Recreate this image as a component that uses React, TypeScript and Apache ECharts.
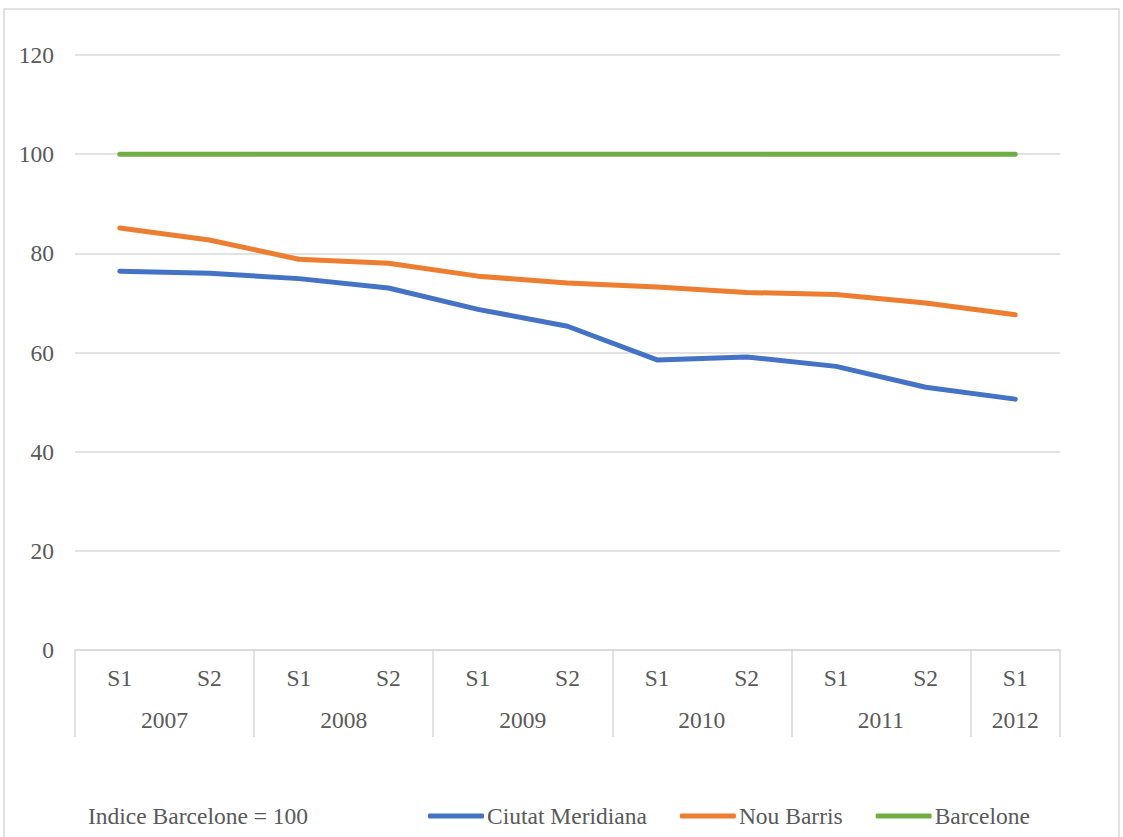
import React, { useEffect, useRef } from "react";
import * as echarts from "echarts";

const years = ["2007", "2008", "2009", "2010", "2011", "2012"];
const semesters = ["S1", "S2", "S1", "S2", "S1", "S2", "S1", "S2", "S1", "S2", "S1"];
const semesterYear = ["2007", "2007", "2008", "2008", "2009", "2009", "2010", "2010", "2011", "2011", "2012"];
const ciutatMeridiana = [76.4, 76.0, 74.9, 73.0, 68.7, 65.3, 58.5, 59.1, 57.2, 53.0, 50.6];
const nouBarris = [85.1, 82.7, 78.8, 78.0, 75.4, 74.0, 73.2, 72.1, 71.7, 70.0, 67.6];
const barcelone = [100, 100, 100, 100, 100, 100, 100, 100, 100, 100, 100];
const yTicks = { min: 0, max: 120, interval: 20 };
const noteText = "Indice Barcelone = 100";

const FONT = "'Liberation Serif', 'Times New Roman', serif";
const FS = 23.5;
const TEXT = "#595959";
const GRID = "#d9d9d9";

export default function App() {
  const ref = useRef<HTMLDivElement>(null);
  useEffect(() => {
    document.body.style.margin = "0";
    if (!ref.current) return;
    const chart = echarts.init(ref.current, undefined, { renderer: "svg" });

    // half-unit axis: 2*n+1 positions (boundaries at even indices, category centres at odd)
    const n = semesters.length;
    const halfData: string[] = Array.from({ length: 2 * n + 1 }, () => "");
    const sepIdx = new Set<number>();
    years.forEach((y) => {
      const idx = semesterYear.map((v, i) => (v === y ? i : -1)).filter((i) => i >= 0);
      if (!idx.length) return;
      const centre = idx.reduce((s, i) => s + (2 * i + 1), 0) / idx.length;
      halfData[centre] = y;
      sepIdx.add(2 * idx[0]);
    });
    sepIdx.add(2 * n);

    chart.setOption({
      animation: false,
      backgroundColor: "#ffffff",
      textStyle: { fontFamily: FONT },
      grid: { left: 75, right: 63, top: 55, bottom: 187, containLabel: false },
      graphic: [
        {
          type: "rect",
          shape: { x: 4, y: 9, width: 1115, height: 850 },
          style: { fill: "none", stroke: GRID, lineWidth: 1.5 },
          silent: true,
        },
        {
          type: "text",
          x: 88,
          y: 816,
          style: {
            text: noteText,
            font: `${FS}px ${FONT}`,
            fill: TEXT,
            verticalAlign: "middle",
          },
        },
      ],
      legend: {
        left: 428,
        top: 804,
        padding: 0,
        icon: "roundRect",
        itemWidth: 56,
        itemHeight: 5,
        itemGap: 33,
        textStyle: { fontFamily: FONT, fontSize: FS, color: TEXT, padding: [0, 0, 0, -2] },
        data: ["Ciutat Meridiana", "Nou Barris", "Barcelone"],
      },
      xAxis: [
        {
          type: "category",
          data: semesters,
          boundaryGap: true,
          axisLine: { show: true, lineStyle: { color: GRID, width: 1.5 } },
          axisTick: { show: false },
          axisLabel: { interval: 0, margin: 16, fontSize: FS, color: TEXT, fontFamily: FONT },
          splitLine: { show: false },
        },
        {
          type: "category",
          data: halfData,
          position: "bottom",
          boundaryGap: false,
          axisLine: { show: false },
          axisTick: {
            show: true,
            length: 87,
            interval: (i: number) => sepIdx.has(i),
            lineStyle: { color: GRID, width: 1.5 },
          },
          axisLabel: {
            interval: (i: number) => halfData[i] !== "",
            margin: 58,
            fontSize: FS,
            color: TEXT,
            fontFamily: FONT,
          },
        },
      ],
      yAxis: {
        type: "value",
        min: yTicks.min,
        max: yTicks.max,
        interval: yTicks.interval,
        axisLine: { show: false },
        axisTick: { show: false },
        axisLabel: { margin: 21, fontSize: FS, color: TEXT, fontFamily: FONT },
        splitLine: { lineStyle: { color: GRID, width: 1.5 } },
      },
      series: [
        {
          name: "Ciutat Meridiana",
          type: "line",
          data: ciutatMeridiana,
          showSymbol: false,
          symbol: "none",
          itemStyle: { color: "#4472C4" },
          lineStyle: { color: "#4472C4", width: 5, cap: "round", join: "round" },
        },
        {
          name: "Nou Barris",
          type: "line",
          data: nouBarris,
          showSymbol: false,
          symbol: "none",
          itemStyle: { color: "#ED7D31" },
          lineStyle: { color: "#ED7D31", width: 5, cap: "round", join: "round" },
        },
        {
          name: "Barcelone",
          type: "line",
          data: barcelone,
          showSymbol: false,
          symbol: "none",
          itemStyle: { color: "#70AD47" },
          lineStyle: { color: "#70AD47", width: 5, cap: "round", join: "round" },
        },
      ],
    });
    return () => chart.dispose();
  }, []);
  return <div ref={ref} style={{ width: 1123, height: 837 }} />;
}
